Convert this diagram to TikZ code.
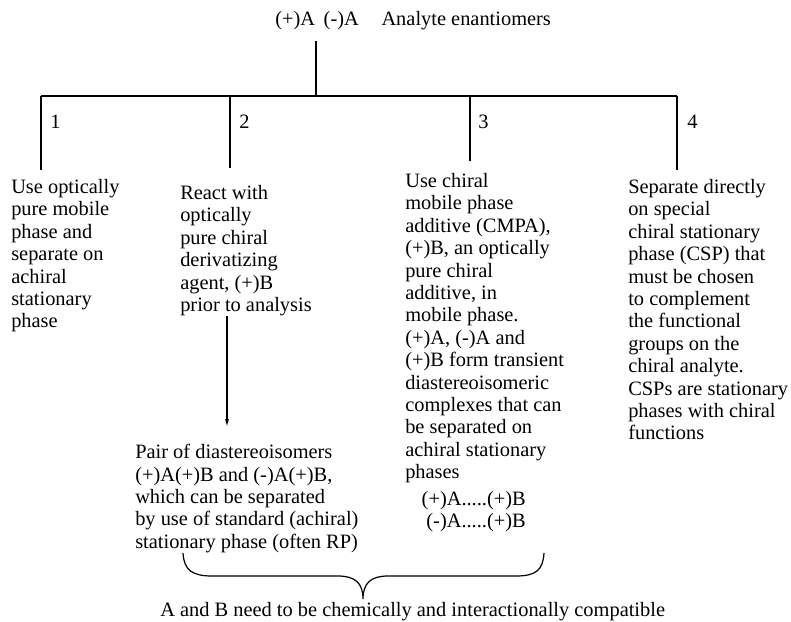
\documentclass[tikz,border=0pt]{standalone}
\usepackage{fontspec}
\setmainfont{Liberation Serif}
\usetikzlibrary{arrows.meta, positioning, calc}
\tikzset{%
	txt/.style={anchor=north west, align=left, inner sep=0pt,%
		font=\fontsize{15.3}{16.8}\selectfont},
	num/.style={anchor=base west, inner sep=0pt, font=\fontsize{15.3}{16.8}\selectfont},
	connector/.style={line width=0.9pt},
	sel/.style={line width=0.9pt, -{Latex[length=6pt, width=3pt]}}
}

\begin{document}
\begin{tikzpicture}[x=0.75pt, y=-0.75pt]
	\useasboundingbox (0,0) rectangle (791,621);

	\node[num] (top) at (275,26) {(+)A\hspace{6.5pt}(-)A\hspace{17pt}Analyte enantiomers};

	% tree of the four routes
	\coordinate (stem) at (316,41);
	\coordinate (hub) at (316,96);
	\draw[connector] (stem) -- (hub);
	\foreach \x/\y [count=\i] in {41/170, 230/168, 470/161, 677/170} {
		\coordinate (b\i) at (\x,96);
		\coordinate (e\i) at (\x,\y);
		\draw[connector] (b\i) -- (e\i);
	}
	\draw[connector] (b1) -- (b4);

	\node[num] (n1) at (50,128) {1};
	\node[num] (n2) at (239,128) {2};
	\node[num] (n3) at (478,128) {3};
	\node[num] (n4) at (687,128) {4};

	\node[txt] (opt1) at (11,179) {Use optically\\pure mobile\\phase and\\separate on\\achiral\\stationary\\phase};
	\node[txt] (opt2) at (180,185) {React with\\optically\\pure chiral\\derivatizing\\agent, (+)B\\prior to analysis};
	\node[txt] (opt3) at (405,173) {Use chiral\\mobile phase\\additive (CMPA),\\(+)B, an optically\\pure chiral\\additive, in\\mobile phase.\\(+)A, (-)A and\\(+)B form transient\\diastereoisomeric\\complexes that can\\be separated on\\achiral stationary\\phases};
	\node[txt] (opt4) at (628,179) {Separate directly\\on special\\chiral stationary\\phase (CSP) that\\must be chosen\\to complement\\the functional\\groups on the\\chiral analyte.\\CSPs are stationary\\phases with chiral\\functions};

	\node[txt] (pair) at (135,444) {Pair of diastereoisomers\\(+)A(+)B and (-)A(+)B,\\which can be separated\\by use of standard (achiral)\\stationary phase (often RP)};
	\node[txt, anchor=north east, align=right] (cplx) at (526,491) {(+)A.....(+)B\\(-)A.....(+)B};

	\coordinate (a2) at (227,300);
	\coordinate (a2end) at (227,427);
	\draw[sel] (opt2.south -| a2) -- (a2end);

	% brace joining routes 2 and 3
	\coordinate (bl) at (183,553);
	\coordinate (br) at (544,553);
	\coordinate (tip) at (363,599);
	\draw[connector] (bl) .. controls (184,570) and (192,576) .. (212,576) -- (338,576)
		.. controls (355,576) and (363,583) .. (tip)
		.. controls (363,583) and (371,576) .. (388,576) -- (516,576)
		.. controls (536,576) and (543,570) .. (br);

	\node[num] (compat) at (160,616) {A and B need to be chemically and interactionally compatible};
\end{tikzpicture}
\end{document}
